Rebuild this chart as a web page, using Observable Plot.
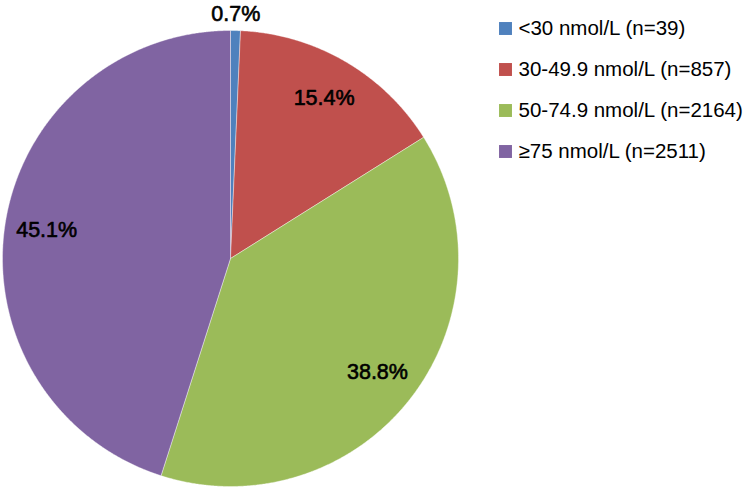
<!DOCTYPE html>
<html>
<head>
<meta charset="utf-8">
<script src="https://cdn.jsdelivr.net/npm/d3@7"></script>
<script src="https://cdn.jsdelivr.net/npm/@observablehq/plot@0.6"></script>
<style>
  html, body { margin: 0; padding: 0; background: #fff; }
  #wrap { position: relative; width: 746px; height: 490px; font-family: "Liberation Sans", Arial, sans-serif; }
  #legend { position: absolute; left: 492px; top: 0; }
</style>
</head>
<body>
<div id="wrap"><div id="pie"></div><div id="legend"></div></div>
<script>
const categories = ["<30 nmol/L (n=39)", "30-49.9 nmol/L (n=857)", "50-74.9 nmol/L (n=2164)", "≥75 nmol/L (n=2511)"];
const counts = [39, 857, 2164, 2511];
const pctLabels = ["0.7%", "15.4%", "38.8%", "45.1%"];
const colors = ["#4F81BD", "#C0504D", "#9BBB59", "#8064A2"];

const arcs = d3.pie().sort(null).value(d => d)(counts);

// polygon vertices of each slice, derived from the pie angles (unit circle)
const slicePts = [];
arcs.forEach((a, i) => {
  slicePts.push({cat: categories[i], x: 0, y: 0});
  const n = Math.max(2, Math.ceil((a.endAngle - a.startAngle) / 0.005));
  for (let k = 0; k <= n; k++) {
    const t = a.startAngle + (a.endAngle - a.startAngle) * k / n;
    slicePts.push({cat: categories[i], x: Math.sin(t), y: Math.cos(t)});
  }
  slicePts.push({cat: categories[i], x: 0, y: 0});
});

const labelPts = arcs.map((a, i) => {
  const mid = (a.startAngle + a.endAngle) / 2;
  const share = (a.endAngle - a.startAngle) / (2 * Math.PI);
  const rr = share < 0.02 ? 1.07 : 0.816;
  return {label: pctLabels[i], x: rr * Math.sin(mid), y: rr * Math.cos(mid)};
});

const colorScale = {domain: categories, range: colors};
const font = "Liberation Sans, Arial, sans-serif";

const pie = Plot.plot({
  width: 746,
  height: 490,
  marginLeft: 2,
  marginRight: 288,
  marginTop: 30,
  marginBottom: 4,
  style: {fontFamily: font, background: "#fff"},
  x: {domain: [-1, 1], axis: null},
  y: {domain: [-1, 1], axis: null},
  color: colorScale,
  marks: [
    Plot.line(slicePts, {x: "x", y: "y", z: "cat", fill: "cat", stroke: "#fff", strokeWidth: 0.4, curve: "linear"}),
    Plot.text(labelPts, {x: "x", y: "y", text: "label", fontSize: 21.5, fill: "#000", stroke: "#000", strokeWidth: 0.6})
  ]
});
document.getElementById("pie").appendChild(pie);

const legend = Plot.plot({
  width: 254,
  height: 180,
  marginTop: 28,
  marginBottom: 29,
  marginLeft: 0,
  marginRight: 0,
  style: {fontFamily: font, background: "transparent"},
  y: {type: "point", domain: categories, padding: 0, axis: null},
  color: colorScale,
  marks: [
    Plot.dot(categories, {y: d => d, frameAnchor: "left", dx: 13, symbol: "square", r: 7.3, fill: d => d, stroke: null}),
    Plot.text(categories, {y: d => d, frameAnchor: "left", dx: 26, textAnchor: "start", fontSize: 20.5, fill: "#000", text: d => d})
  ]
});
document.getElementById("legend").appendChild(legend);
</script>
</body>
</html>
